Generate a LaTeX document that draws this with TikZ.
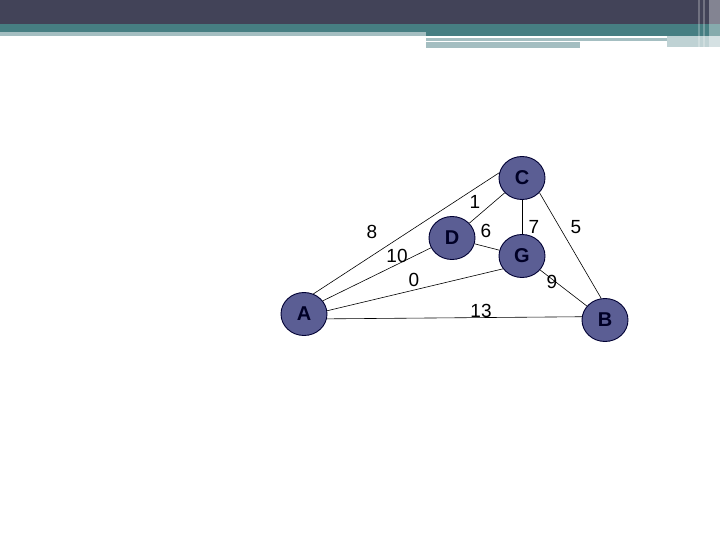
\documentclass[tikz,border=0pt]{standalone}
\usepackage{fontspec}
\setmainfont{Liberation Sans}
\usepackage{tikz}
\usetikzlibrary{shapes.geometric}

\definecolor{barDark}{HTML}{424358}
\definecolor{barTeal}{HTML}{467E82}
\definecolor{barLight}{HTML}{A4BEC1}
\definecolor{vertexFill}{HTML}{5B5E94}

\tikzset{
  vertex/.style={ellipse, draw=black!80!blue, line width=0.9pt, fill=vertexFill, minimum width=46pt, minimum height=43pt,
    inner sep=0pt, font=\fontsize{20}{20}\selectfont\bfseries, text=black!85!blue},
  weight/.style={font=\fontsize{19}{19}\selectfont, inner sep=0pt},
  edge/.style={draw=black, line width=0.6pt}
}

\begin{document}
\begin{tikzpicture}[x=1pt,y=-1pt]
    \useasboundingbox (0,0) rectangle (720,540);
    \fill[white] (0,0) rectangle (720,540);

    % Title bars
    \fill[barDark] (0,0) rectangle (720,24);
    \fill[barTeal] (0,24) rectangle (720,32);
    \fill[barTeal] (426,32) rectangle (720,36);
    \fill[barLight] (0,32) rectangle (426,36);
    \fill[barLight] (426,38) rectangle (667,41);
    \fill[barLight] (426,42) rectangle (580,48);
    \fill[barLight!70] (667,36) rectangle (720,47);
    \fill[white, opacity=0.25] (698,0) rectangle (700,50);
    \fill[white, opacity=0.25] (703,0) rectangle (705,50);
    \fill[white, opacity=0.35] (709,0) rectangle (720,50);

    % Vertices
    \node[vertex] (A) at (304,314) {A};
    \node[vertex] (C) at (522,178) {C};
    \node[vertex] (D) at (452,238) {D};
    \node[vertex] (G) at (522,256) {G};
    \node[vertex] (B) at (605,320) {B};

    % Edges
    \draw[edge] (A.65) -- (C.167);
    \draw[edge] (A.35) -- (D.205);
    \draw[edge] (A.8) -- (G.214);
    \draw[edge] (A.-12) -- (B.172);
    \draw[edge] (D) -- (C);
    \draw[edge] (D) -- (G);
    \draw[edge] (C) -- (G);
    \draw[edge] (C.-40) -- (B.100);
    \draw[edge] (G) -- (B);

    % Weights
    \node[weight] (wAC) at (372,232) {8};
    \node[weight] (wAD) at (397,256) {10};
    \node[weight] (wAG) at (414,280) {0};
    \node[weight] (wAB) at (481,311) {13};
    \node[weight] (wDC) at (475,202) {1};
    \node[weight] (wDG) at (486,231) {6};
    \node[weight] (wCG) at (534,227) {7};
    \node[weight] (wCB) at (576,227) {5};
    \node[weight] (wGB) at (552,282) {9};
\end{tikzpicture}
\end{document}
